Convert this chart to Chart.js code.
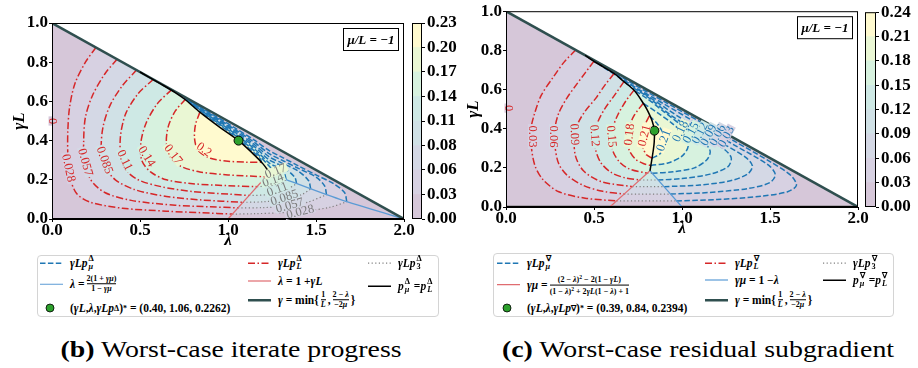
<!DOCTYPE html>
<html>
<head>
<meta charset="utf-8">
<script src="https://cdn.jsdelivr.net/npm/chart.js@4.4.0/dist/chart.umd.min.js"></script>
<style>
  body { margin: 0; background: #fff; width: 918px; height: 368px; overflow: hidden; position: relative; font-family: "Liberation Serif", serif; }
  canvas { position: absolute; }
  .leg { position: absolute; border: 1px solid #d4d4d4; border-radius: 4px; box-sizing: border-box; }
  .e { position: absolute; display: flex; align-items: center; font-weight: bold; font-size: 11.5px; white-space: nowrap; transform: translateY(-50%); }
  .e svg { margin-right: 7px; flex: none; }
  .ss { display: inline-flex; flex-direction: column; font-size: 0.72em; line-height: 0.95; vertical-align: middle; margin: 0 1px; }
  .fr { display: inline-flex; flex-direction: column; text-align: center; font-size: 0.7em; line-height: 1.15; vertical-align: middle; margin: 0 2px; }
  .fr span:first-child { border-bottom: 0.8px solid #000; }
  sup { font-size: 0.7em; }
  .cap { position: absolute; top: 337px; font-size: 23px; text-align: center; white-space: nowrap; transform: scaleX(1.21); }
</style>
</head>
<body>
<canvas id="mainL" width="430" height="250" style="left:0;top:0"></canvas>
<canvas id="cbarL" width="55" height="250" style="left:412px;top:0"></canvas>
<canvas id="mainR" width="430" height="238" style="left:454px;top:0"></canvas>
<canvas id="cbarR" width="56" height="238" style="left:865px;top:0"></canvas>

<div class="leg" style="left:37px;top:255px;width:402px;height:62px"></div>
<div class="e" style="left:40px;top:263px"><svg width="23" height="8"><line x1="0" y1="4" x2="23" y2="4" stroke="#1f77b4" stroke-width="1.5" stroke-dasharray="5.5 2.4"/></svg><i>γLp</i><span class="ss"><span>Δ</span><i>μ</i></span></div>
<div class="e" style="left:40px;top:284px"><svg width="23" height="8"><line x1="0" y1="4" x2="23" y2="4" stroke="#5b9bd5" stroke-width="1.2"/></svg><i>λ</i>&nbsp;=<span class="fr"><span>2(1 + <i>γμ</i>)</span><span>1 − <i>γμ</i></span></span></div>
<div class="e" style="left:40px;top:308px"><svg width="23" height="10"><circle cx="10" cy="5" r="4" fill="#2ca02c" stroke="#000" stroke-width="0.8"/></svg>(<i>γL</i>, <i>λ</i>, <i>γLp</i><sup>Δ</sup>)<sup>*</sup>&nbsp;= (0.40, 1.06, 0.2262)</div>
<div class="e" style="left:248px;top:263px"><svg width="23" height="8"><line x1="0" y1="4" x2="23" y2="4" stroke="#d62728" stroke-width="1.5" stroke-dasharray="7 2.5 1.5 2.5"/></svg><i>γLp</i><span class="ss"><span>Δ</span><i>L</i></span></div>
<div class="e" style="left:248px;top:281px"><svg width="23" height="8"><line x1="0" y1="4" x2="23" y2="4" stroke="#e06c70" stroke-width="1.2"/></svg><i>λ</i>&nbsp;= 1 + <i>γL</i></div>
<div class="e" style="left:248px;top:300px"><svg width="23" height="8"><line x1="0" y1="4" x2="23" y2="4" stroke="#2f4f4f" stroke-width="2.5"/></svg><i>γ</i>&nbsp;= min{<span class="fr"><span>1</span><i>L</i></span>,<span class="fr"><span>2 − <i>λ</i></span><span>−2<i>μ</i></span></span>}</div>
<div class="e" style="left:368px;top:263px"><svg width="23" height="8"><line x1="0" y1="4" x2="23" y2="4" stroke="#808080" stroke-width="1.2" stroke-dasharray="1.2 2.4"/></svg><i>γLp</i><span class="ss"><span>Δ</span>3</span></div>
<div class="e" style="left:368px;top:286px"><svg width="23" height="8"><line x1="0" y1="4" x2="23" y2="4" stroke="#000" stroke-width="1.5"/></svg><i>p</i><span class="ss"><span>Δ</span><i>μ</i></span>&nbsp;= <i>p</i><span class="ss"><span>Δ</span><i>L</i></span></div>

<div class="leg" style="left:493px;top:253px;width:401px;height:64px"></div>
<div class="e" style="left:497px;top:263px"><svg width="23" height="8"><line x1="0" y1="4" x2="23" y2="4" stroke="#1f77b4" stroke-width="1.5" stroke-dasharray="5.5 2.4"/></svg><i>γLp</i><span class="ss"><span>∇</span><i>μ</i></span></div>
<div class="e" style="left:497px;top:285px"><svg width="23" height="8"><line x1="0" y1="4" x2="23" y2="4" stroke="#e06c70" stroke-width="1.2"/></svg><i>γμ</i>&nbsp;=<span class="fr"><span>(2 − <i>λ</i>)<sup>2</sup> − 2(1 − <i>γL</i>)</span><span>(1 − <i>λ</i>)<sup>2</sup> + 2<i>γL</i>(1 − <i>λ</i>) + 1</span></span></div>
<div class="e" style="left:497px;top:308px"><svg width="23" height="10"><circle cx="10" cy="5" r="4" fill="#2ca02c" stroke="#000" stroke-width="0.8"/></svg>(<i>γL</i>, <i>λ</i>, <i>γLp</i><sup>∇</sup>)<sup>*</sup>&nbsp;= (0.39, 0.84, 0.2394)</div>
<div class="e" style="left:705px;top:263px"><svg width="23" height="8"><line x1="0" y1="4" x2="23" y2="4" stroke="#d62728" stroke-width="1.5" stroke-dasharray="7 2.5 1.5 2.5"/></svg><i>γLp</i><span class="ss"><span>∇</span><i>L</i></span></div>
<div class="e" style="left:705px;top:280px"><svg width="23" height="8"><line x1="0" y1="4" x2="23" y2="4" stroke="#5b9bd5" stroke-width="1.2"/></svg><i>γμ</i>&nbsp;= 1 − <i>λ</i></div>
<div class="e" style="left:705px;top:300px"><svg width="23" height="8"><line x1="0" y1="4" x2="23" y2="4" stroke="#2f4f4f" stroke-width="2.5"/></svg><i>γ</i>&nbsp;= min{<span class="fr"><span>1</span><i>L</i></span>,<span class="fr"><span>2 − <i>λ</i></span><span>−2<i>μ</i></span></span>}</div>
<div class="e" style="left:823px;top:263px"><svg width="23" height="8"><line x1="0" y1="4" x2="23" y2="4" stroke="#808080" stroke-width="1.2" stroke-dasharray="1.2 2.4"/></svg><i>γLp</i><span class="ss"><span>∇</span>3</span></div>
<div class="e" style="left:823px;top:280px"><svg width="23" height="8"><line x1="0" y1="4" x2="23" y2="4" stroke="#000" stroke-width="1.5"/></svg><i>p</i><span class="ss"><span>∇</span><i>μ</i></span>&nbsp;= <i>p</i><span class="ss"><span>∇</span><i>L</i></span></div>

<div class="cap" style="left:0;width:462px"><b>(b)</b> Worst-case iterate progress</div>
<div class="cap" style="left:462px;width:472px"><b>(c)</b> Worst-case residual subgradient</div>

<script>
// contour levels (filled bands) of the two panels
const levelsL = [0, 0.0283, 0.0566, 0.0848, 0.1131, 0.1414, 0.1697, 0.1979, 0.2262];
const levelsR = [0, 0.03, 0.06, 0.09, 0.12, 0.15, 0.18, 0.21, 0.24];
const bandColors = ['#d6c7d9', '#d7d1e2', '#d4d8e5', '#d0e1e6', '#cee9e5', '#d7f2df', '#eaf7d4', '#fffacf'];
const lambdaTicks = [0, 0.5, 1, 1.5, 2];
const gammaTicks = [0, 0.2, 0.4, 0.6, 0.8, 1];

// feasible triangle and its upper edge gamma = min{1/L, (2-lambda)/(-2mu)}
const triangle = [[0, 0], [0, 1], [2, 0]];
const hypot = [[0, 1], [2, 0]];

// ---- (b) iterate progress: points are [lambda, gammaL]
const redL = [
  [[0.25,0.875],[0.19,0.8],[0.13,0.69],[0.1,0.57],[0.09,0.45],[0.09,0.33],[0.1,0.22],[0.14,0.13],[0.22,0.085],[0.4,0.055],[0.65,0.04],[0.85,0.032],[1.025,0.025]],
  [[0.37,0.815],[0.3,0.74],[0.23,0.63],[0.19,0.52],[0.18,0.4],[0.185,0.29],[0.22,0.2],[0.3,0.135],[0.45,0.095],[0.7,0.07],[0.9,0.062],[1.057,0.057]],
  [[0.48,0.76],[0.4,0.68],[0.33,0.58],[0.29,0.47],[0.28,0.36],[0.3,0.27],[0.36,0.2],[0.47,0.15],[0.65,0.115],[0.85,0.097],[1.085,0.085]],
  [[0.575,0.712],[0.49,0.64],[0.42,0.54],[0.39,0.43],[0.39,0.33],[0.42,0.25],[0.49,0.2],[0.62,0.165],[0.8,0.14],[1.0,0.127],[1.12,0.12]],
  [[0.68,0.66],[0.6,0.59],[0.535,0.49],[0.505,0.39],[0.51,0.3],[0.56,0.24],[0.65,0.2],[0.8,0.18],[1.0,0.17],[1.165,0.165]],
  [[0.76,0.612],[0.7,0.55],[0.66,0.47],[0.65,0.39],[0.67,0.32],[0.73,0.27],[0.84,0.24],[1.0,0.225],[1.215,0.215]],
  [[0.84,0.545],[0.815,0.48],[0.81,0.41],[0.83,0.35],[0.9,0.31],[1.0,0.295],[1.1,0.29],[1.19,0.289]]
];
const grayL = [
  [[1.025,0.025],[1.15,0.027],[1.3,0.032],[1.45,0.042],[1.58,0.06],[1.675,0.088]],
  [[1.057,0.057],[1.2,0.058],[1.33,0.066],[1.45,0.085],[1.56,0.124]],
  [[1.085,0.085],[1.2,0.088],[1.32,0.1],[1.42,0.125],[1.47,0.153]],
  [[1.12,0.12],[1.22,0.124],[1.32,0.145],[1.39,0.18]],
  [[1.165,0.165],[1.25,0.17],[1.3,0.182],[1.33,0.201]],
  [[1.215,0.215],[1.245,0.216],[1.262,0.223]]
];
const blueL = [
  [[1.675,0.088],[1.662,0.135],[1.6,0.18],[1.5,0.225],[1.4,0.271],[1.3,0.318],[1.236,0.348],[1.15,0.402],[1.05,0.459],[0.95,0.514],[0.85,0.567],[0.75,0.622]],
  [[1.56,0.124],[1.548,0.17],[1.5,0.214],[1.4,0.258],[1.3,0.303],[1.236,0.332],[1.15,0.391],[1.05,0.451],[0.95,0.508],[0.85,0.563],[0.75,0.621]],
  [[1.47,0.153],[1.458,0.195],[1.4,0.244],[1.3,0.288],[1.236,0.316],[1.15,0.38],[1.05,0.444],[0.95,0.503],[0.85,0.559],[0.75,0.619]],
  [[1.39,0.18],[1.378,0.215],[1.3,0.273],[1.236,0.3],[1.15,0.369],[1.05,0.436],[0.95,0.497],[0.85,0.555],[0.75,0.618]],
  [[1.33,0.201],[1.32,0.235],[1.29,0.26],[1.236,0.284],[1.15,0.358],[1.05,0.428],[0.95,0.492],[0.85,0.552],[0.75,0.616]],
  [[1.262,0.223],[1.255,0.245],[1.236,0.268],[1.15,0.347],[1.05,0.42],[0.95,0.486],[0.85,0.548],[0.76,0.612]],
  [[1.19,0.289],[1.185,0.305],[1.15,0.337],[1.05,0.413],[0.95,0.481],[0.84,0.548]]
];
const blackL = [[0.5,0.75],[0.62,0.688],[0.7,0.645],[0.76,0.607],[0.84,0.545],[0.95,0.47],[1.06,0.4],[1.14,0.335],[1.2,0.28],[1.236,0.236]];
const pinkLineL = [[1, 0], [1.236, 0.236]];
const blueLineL = [[2, 0], [1.636, 0.1], [1.333, 0.2], [1.236, 0.236]];
const optimumL = [1.06, 0.40];
const redLabelPosL = [[0.006,0.5],[0.095,0.26],[0.19,0.29],[0.3,0.3],[0.415,0.3],[0.54,0.32],[0.69,0.33],[0.865,0.355]];
const redLabelAngL = [90, 78, 74, 70, 64, 58, 52, 35];
const grayLabelPosL = [[1.41,0.037],[1.35,0.07],[1.32,0.11],[1.28,0.152],[1.255,0.2],[1.27,0.245]];

// ---- (c) residual subgradient
const redR = [
  [[0.396,0.802],[0.33,0.74],[0.27,0.665],[0.2,0.57],[0.16,0.47],[0.14,0.39],[0.145,0.3],[0.165,0.21],[0.21,0.14],[0.3,0.078],[0.45,0.045],[0.628,0.031]],
  [[0.5,0.745],[0.45,0.685],[0.4,0.625],[0.345,0.555],[0.3,0.48],[0.278,0.4],[0.28,0.3],[0.3,0.22],[0.35,0.16],[0.44,0.11],[0.55,0.08],[0.671,0.066]],
  [[0.614,0.682],[0.56,0.62],[0.51,0.555],[0.45,0.49],[0.405,0.42],[0.388,0.35],[0.395,0.26],[0.44,0.185],[0.54,0.13],[0.718,0.104]],
  [[0.67,0.64],[0.62,0.575],[0.56,0.5],[0.52,0.43],[0.505,0.36],[0.51,0.29],[0.54,0.225],[0.6,0.175],[0.68,0.148],[0.76,0.138]],
  [[0.727,0.597],[0.68,0.54],[0.635,0.47],[0.605,0.4],[0.597,0.34],[0.61,0.28],[0.645,0.23],[0.7,0.195],[0.802,0.172]],
  [[0.78,0.53],[0.73,0.47],[0.7,0.41],[0.69,0.35],[0.7,0.29],[0.735,0.245],[0.78,0.222],[0.823,0.212]],
  [[0.815,0.465],[0.79,0.42],[0.775,0.36],[0.78,0.3],[0.8,0.265],[0.83,0.25]]
];
const grayR = [
  [[0.628,0.031],[0.969,0.031]],
  [[0.671,0.066],[0.935,0.066]],
  [[0.718,0.104],[0.898,0.104]],
  [[0.76,0.138],[0.864,0.138]],
  [[0.802,0.172],[0.831,0.172]]
];
const blueR = [
  [[0.969,0.031],[1.2,0.038],[1.45,0.055],[1.6,0.078],[1.65,0.11],[1.62,0.16],[1.5,0.232],[1.3,0.335],[1.1,0.437],[0.9,0.538],[0.7,0.64],[0.45,0.775]],
  [[0.935,0.066],[1.15,0.074],[1.38,0.095],[1.5,0.125],[1.53,0.165],[1.49,0.215],[1.3,0.315],[1.1,0.42],[0.9,0.525],[0.7,0.63],[0.5,0.745]],
  [[0.898,0.104],[1.1,0.112],[1.28,0.135],[1.375,0.17],[1.4,0.21],[1.36,0.255],[1.2,0.34],[1.0,0.45],[0.8,0.57],[0.614,0.682]],
  [[0.864,0.138],[1.0,0.145],[1.16,0.168],[1.26,0.205],[1.28,0.25],[1.24,0.295],[1.1,0.378],[0.95,0.46],[0.8,0.565],[0.67,0.638]],
  [[0.831,0.172],[0.95,0.18],[1.07,0.2],[1.14,0.24],[1.16,0.285],[1.12,0.335],[1.0,0.415],[0.9,0.485],[0.8,0.555],[0.727,0.597]],
  [[0.823,0.212],[0.92,0.225],[1.0,0.26],[1.035,0.31],[1.01,0.37],[0.94,0.43],[0.86,0.482],[0.78,0.53]],
  [[0.83,0.25],[0.875,0.272],[0.9,0.32],[0.89,0.38],[0.855,0.43],[0.815,0.465]]
];
const blackR = [[0.45,0.775],[0.51,0.738],[0.614,0.682],[0.67,0.64],[0.727,0.597],[0.78,0.53],[0.803,0.495],[0.83,0.44],[0.843,0.39],[0.842,0.33],[0.837,0.291],[0.83,0.25],[0.818,0.185]];
const pinkLineR = [[0.59, 0], [0.818, 0.185]];
const blueLineR = [[1, 0], [0.818, 0.185]];
const bottomR = [[0, 0], [2, 0]];
const optimumR = [0.843, 0.39];
const redLabelPosR = [[0.017,0.505],[0.15,0.36],[0.27,0.36],[0.39,0.37],[0.505,0.365],[0.6,0.36],[0.7,0.37],[0.785,0.365]];
const redLabelAngR = [90, 90, 90, 88, 86, 84, -84, -76];
const blueLabelPosR = [[1.25,0.36],[1.2,0.368],[1.15,0.368],[1.1,0.378],[1.05,0.38],[0.99,0.387],[0.895,0.34]];

Chart.defaults.font.family = '"Liberation Serif", serif';
const tickFont = { size: 17, weight: 'bold' };
const clabel = v => String(Number(v.toPrecision(2)));
const xy = a => a.map(p => ({ x: p[0], y: p[1] }));

// filled contour bands: polygons through the scale positions of the dataset points
const bandFill = {
  id: 'bandFill',
  beforeDatasetsDraw(chart) {
    const { ctx, chartArea: a } = chart;
    ctx.save();
    ctx.beginPath();
    ctx.rect(a.left, a.top, a.width, a.height);
    ctx.clip();
    chart.data.datasets.forEach((ds, i) => {
      if (!ds.band) return;
      const pts = chart.getDatasetMeta(i).data;
      ctx.beginPath();
      pts.forEach((p, j) => j ? ctx.lineTo(p.x, p.y) : ctx.moveTo(p.x, p.y));
      ctx.closePath();
      ctx.fillStyle = ds.band;
      ctx.fill();
    });
    ctx.restore();
  }
};

// inline contour labels (with a gap cut in the line), axes frame, axis titles and the mu/L box
const deco = {
  id: 'deco',
  afterDatasetsDraw(chart, args, o) {
    const { ctx, chartArea: a, scales: { x, y } } = chart;
    ctx.save();
    ctx.textAlign = 'center';
    ctx.textBaseline = 'middle';
    ctx.font = '12.5px "Liberation Serif"';
    o.groups.forEach(g => {
      g.pos.forEach((p, i) => {
        ctx.save();
        ctx.translate(x.getPixelForValue(p[0]), y.getPixelForValue(p[1]));
        ctx.rotate(g.ang[i] * Math.PI / 180);
        const w = ctx.measureText(g.text[i]).width;
        ctx.fillStyle = bandColors[g.bg[i]];
        ctx.fillRect(-w / 2 - 1.5, -4.5, w + 3, 9);
        ctx.fillStyle = g.color;
        ctx.fillText(g.text[i], 0, 0.5);
        ctx.restore();
      });
    });
    ctx.strokeStyle = '#000';
    ctx.lineWidth = 1;
    ctx.strokeRect(a.left + 0.5, a.top + 0.5, a.width - 1, a.height - 1);

    ctx.fillStyle = '#000';
    ctx.font = 'italic bold 17px "Liberation Serif"';
    ctx.fillText('λ', (a.left + a.right) / 2, a.bottom + 22);
    ctx.save();
    ctx.translate(a.left - 32, (a.top + a.bottom) / 2);
    ctx.rotate(-Math.PI / 2);
    ctx.fillText('γL', 0, 0);
    ctx.restore();

    const bw = 56, bh = 23, bx = a.right - 5 - bw, by = a.top + 5;
    ctx.fillStyle = '#fff';
    ctx.fillRect(bx, by, bw, bh);
    ctx.strokeRect(bx + 0.5, by + 0.5, bw - 1, bh - 1);
    ctx.fillStyle = '#000';
    ctx.font = 'italic bold 13px "Liberation Serif"';
    ctx.fillText(o.box, bx + bw / 2, by + bh / 2 + 1);
    ctx.restore();
  }
};

function line(points, color, width, dash, order) {
  return { data: xy(points), showLine: true, borderColor: color, borderWidth: width, borderDash: dash || [],
    pointRadius: 0, tension: 0.3, order: order, fill: false };
}

function panel(id, p) {
  const sets = [];
  sets.push({ data: xy([p.opt]), pointRadius: 4.5, pointBackgroundColor: '#2ca02c', pointBorderColor: '#000', pointBorderWidth: 1, order: 0 });
  sets.push(line(p.black, '#000', 1.5, null, 1));
  sets.push(line(hypot, '#2f4f4f', 2.5, null, 2));
  p.thin.forEach(t => sets.push(line(t[0], t[1], 1.3, null, 3)));
  p.red.forEach(c => sets.push(line(c, '#d62728', 1.5, [7, 2.5, 1.5, 2.5], 4)));
  sets.push(line([[0, 0], [0, 1]], '#d62728', 1.5, [7, 2.5, 1.5, 2.5], 4));
  p.blue.forEach(c => sets.push(line(c, '#1f77b4', 1.5, [5.5, 2.4], 4)));
  p.gray.forEach(c => sets.push(line(c, '#808080', 1.2, [1.2, 2.4], 4)));
  if (p.extra) sets.push(line(p.extra, '#808080', 3, null, 4));
  // bands: whole triangle, then region above each level
  sets.push({ band: bandColors[0], data: xy(triangle), showLine: false, pointRadius: 0, order: 9 });
  p.red.forEach((r, k) => sets.push({ band: bandColors[k + 1], data: xy(r.concat(p.gray[k] || [], p.blue[k])),
    showLine: false, pointRadius: 0, order: 9 }));

  new Chart(document.getElementById(id), {
    type: 'scatter',
    data: { datasets: sets },
    options: {
      responsive: false, animation: false, events: [],
      layout: { padding: { top: p.top, right: 26, left: 0, bottom: 0 } },
      plugins: { legend: { display: false }, tooltip: { enabled: false },
        deco: { groups: p.labels, box: 'μ/L = −1' } },
      scales: {
        x: {
          type: 'linear', min: 0, max: 2,
          afterBuildTicks: s => { s.ticks = lambdaTicks.map(v => ({ value: v })); },
          afterFit: s => { s.height = 31; },
          ticks: { callback: v => v.toFixed(1), color: '#000', font: tickFont, padding: -2, maxRotation: 0 },
          grid: { drawOnChartArea: false, tickLength: 3, color: '#000' },
          border: { color: '#000' }
        },
        y: {
          type: 'linear', min: 0, max: 1,
          afterBuildTicks: s => { s.ticks = gammaTicks.map(v => ({ value: v })); },
          afterFit: s => { s.width = 52; },
          ticks: { callback: v => v.toFixed(1), color: '#000', font: tickFont, padding: 1 },
          grid: { drawOnChartArea: false, tickLength: 3, color: '#000' },
          border: { color: '#000' }
        }
      }
    },
    plugins: [bandFill, deco]
  });
}

const cbFrame = {
  id: 'cbFrame',
  afterDraw(chart) {
    const { ctx, chartArea: a } = chart;
    ctx.save();
    ctx.strokeStyle = '#000';
    ctx.lineWidth = 1;
    ctx.strokeRect(a.left + 0.5, a.top + 0.5, a.width - 1, a.height - 1);
    ctx.restore();
  }
};

function colorbar(id, levels, top) {
  new Chart(document.getElementById(id), {
    type: 'bar',
    data: {
      labels: [''],
      datasets: levels.slice(1).map((v, i) => ({ data: [v - levels[i]], backgroundColor: bandColors[i], borderWidth: 0,
        barPercentage: 1, categoryPercentage: 1 }))
    },
    options: {
      responsive: false, animation: false, events: [],
      layout: { padding: { top: top, bottom: 31, left: 0, right: 0 } },
      plugins: { legend: { display: false }, tooltip: { enabled: false } },
      scales: {
        x: { display: false, stacked: true },
        y: {
          stacked: true, position: 'right', min: 0, max: levels[levels.length - 1],
          afterBuildTicks: s => { s.ticks = levels.map(v => ({ value: v })); },
          afterFit: s => { s.width = 45; },
          ticks: { callback: v => v.toFixed(2), color: '#000', font: tickFont, padding: 2 },
          grid: { drawOnChartArea: false, tickLength: 3, color: '#000' },
          border: { display: false }
        }
      }
    },
    plugins: [cbFrame]
  });
}

panel('mainL', {
  top: 23, red: redL, gray: grayL, blue: blueL, black: blackL, opt: optimumL,
  thin: [[blueLineL, '#5b9bd5'], [pinkLineL, '#e06c70']],
  labels: [
    { color: '#d62728', pos: redLabelPosL, ang: redLabelAngL, text: levelsL.slice(0, 8).map(clabel), bg: [0, 1, 2, 3, 4, 5, 6, 7] },
    { color: '#7a7a7a', pos: grayLabelPosL, ang: [-14, -16, -18, -20, -20, -22], text: levelsL.slice(1, 7).map(clabel), bg: [1, 2, 3, 4, 5, 6] }
  ]
});
panel('mainR', {
  top: 11, red: redR, gray: grayR, blue: blueR, black: blackR, opt: optimumR, extra: bottomR,
  thin: [[blueLineR, '#5b9bd5'], [pinkLineR, '#e06c70']],
  labels: [
    { color: '#d62728', pos: redLabelPosR, ang: redLabelAngR, text: levelsR.slice(0, 8).map(clabel), bg: [0, 1, 2, 3, 4, 5, 6, 7] },
    { color: '#1f77b4', pos: blueLabelPosR, ang: [-62, -62, -62, -62, -62, -64, -70], text: levelsR.slice(1, 8).map(clabel), bg: [1, 2, 3, 4, 5, 6, 7] }
  ]
});
colorbar('cbarL', levelsL, 23);
colorbar('cbarR', levelsR, 11);
</script>
</body>
</html>
